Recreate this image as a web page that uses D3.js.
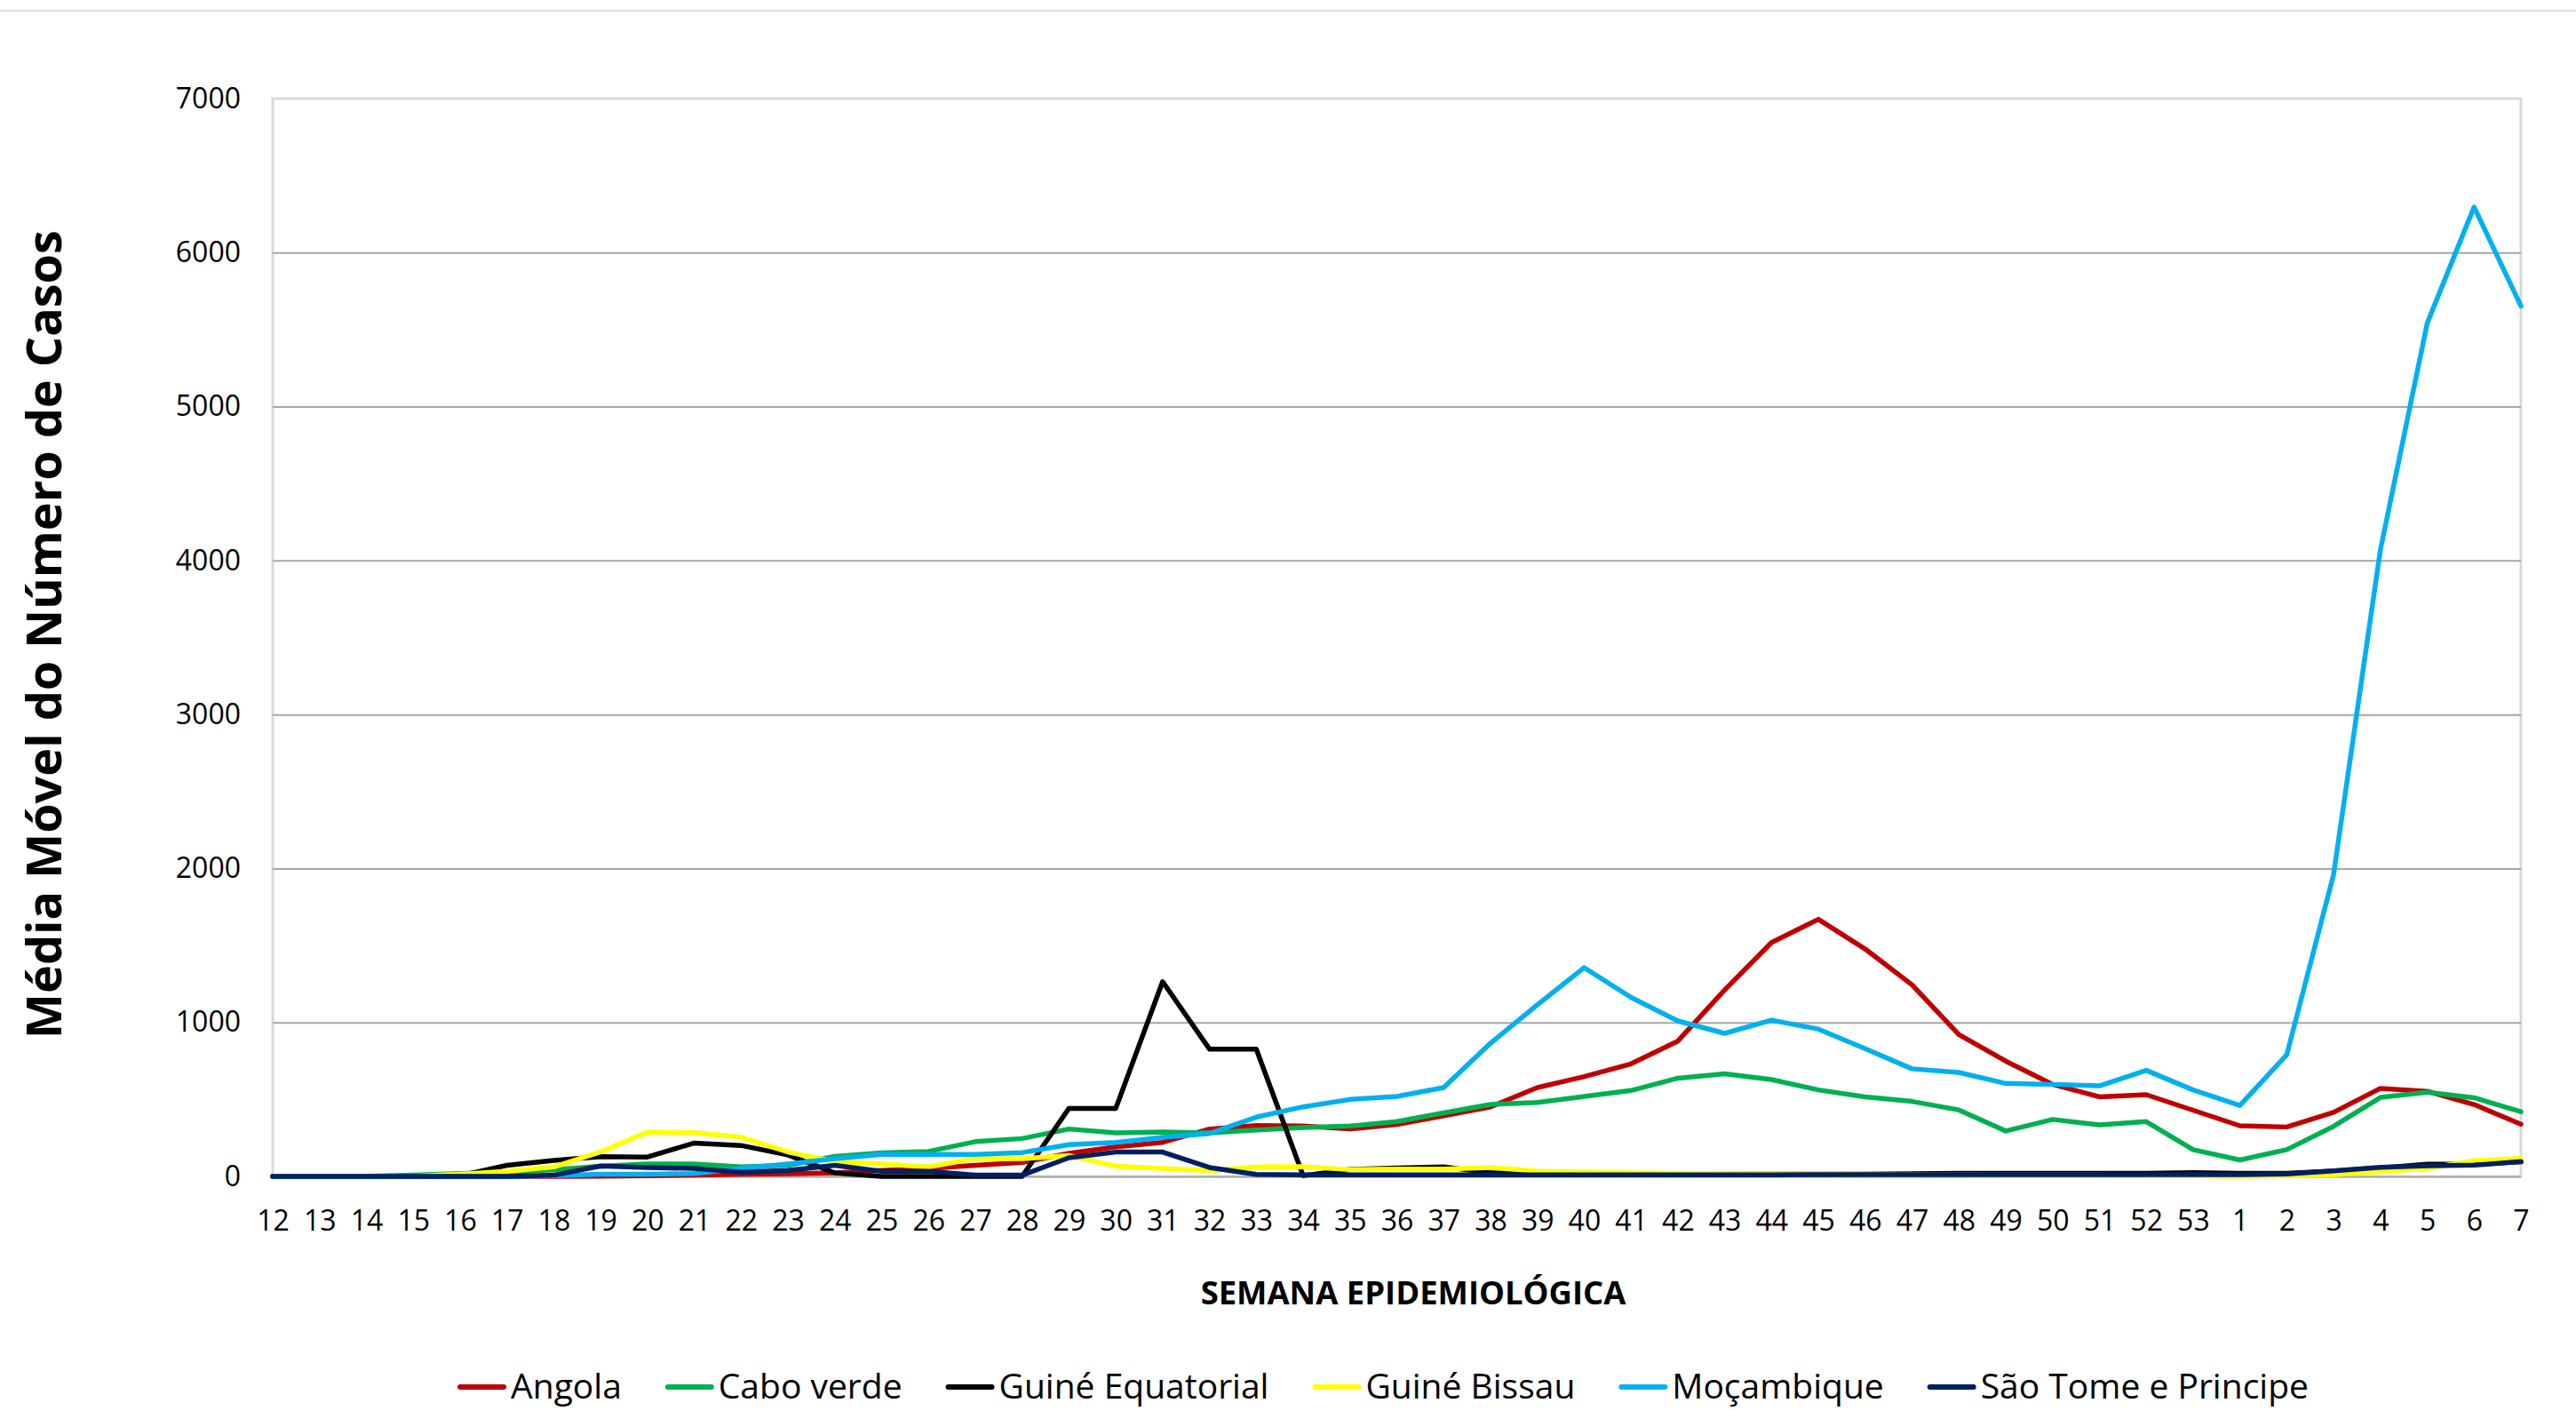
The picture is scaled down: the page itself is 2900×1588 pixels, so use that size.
<!DOCTYPE html>
<html>
<head>
<meta charset="utf-8">
<script src="https://cdn.jsdelivr.net/npm/d3@7"></script>
<style>
  html, body { margin: 0; padding: 0; background: #ffffff; }
  svg { display: block; font-family: "Open Sans", "Liberation Sans", sans-serif; }
</style>
</head>
<body>
<svg id="chart" width="2900" height="1588"></svg>
<script>
// ---------- DATA ----------
const weeks = ["12","13","14","15","16","17","18","19","20","21","22","23","24","25","26","27","28","29","30","31","32","33","34","35","36","37","38","39","40","41","42","43","44","45","46","47","48","49","50","51","52","53","1","2","3","4","5","6","7"];

const angola = [0,0,0,0,0,0,0,2,4,8,14,17,23,39,52,72,91,150,192,221,308,331,327,308,337,394,452,577,648,731,879,1211,1519,1670,1477,1244,921,749,598,517,531,430,329,321,416,572,553,467,339];
const caboVerde = [0,0,2,8,19,27,43,66,81,81,62,72,130,153,162,226,246,308,283,288,283,302,317,327,356,413,467,481,519,558,638,667,629,562,517,487,432,295,370,335,356,174,107,174,325,513,547,511,420];
const guineEquatorial = [0,0,0,0,5,72,104,128,126,217,201,139,23,0,0,0,0,442,442,1265,827,827,5,45,55,62,25,18,15,15,15,15,15,15,15,17,20,20,20,20,20,25,20,20,35,55,80,80,95];
const guineBissau = [0,0,0,0,15,33,62,159,288,284,255,159,97,81,62,116,116,135,67,52,38,62,63,44,48,48,58,35,29,23,20,18,15,15,12,12,10,8,8,8,5,5,2,5,12,32,52,103,117];
const mocambique = [0,0,0,0,0,0,5,14,14,19,52,81,116,143,143,143,155,206,221,254,279,385,452,500,519,577,865,1115,1356,1163,1010,929,1015,957,830,699,675,604,598,588,689,562,461,790,1961,4070,5542,6296,5653];
const saoTome = [0,0,0,0,0,0,8,68,58,52,27,39,72,33,33,8,8,121,158,158,58,13,10,10,10,10,10,10,10,10,10,10,10,12,12,12,12,12,12,12,12,12,12,16,36,59,69,73,97];

const seriesNames = ["Angola","Cabo verde","Guiné Equatorial","Guiné Bissau","Moçambique","São Tome e Principe"];
const seriesValues = [angola, caboVerde, guineEquatorial, guineBissau, mocambique, saoTome];
const seriesColors = ["#C00000","#00B050","#000000","#FFFF00","#00B0F0","#002060"];
const yTicks = [0,1000,2000,3000,4000,5000,6000,7000];
const yTitle = "Média Móvel do Número de Casos";
const xTitle = "SEMANA EPIDEMIOLÓGICA";

// ---------- LAYOUT ----------
const W = 2900, H = 1588;
const plot = { left: 307, right: 2838, top: 111, bottom: 1324 };

const svg = d3.select("#chart");

// top thin frame line
svg.append("line")
  .attr("x1", 0).attr("x2", W).attr("y1", 12).attr("y2", 12)
  .attr("stroke", "#dcdcdc").attr("stroke-width", 2);

const x = d3.scalePoint().domain(weeks).range([plot.left, plot.right]);
const y = d3.scaleLinear().domain([0, 7000]).range([plot.bottom, plot.top]);

// plot border (light)
svg.append("rect")
  .attr("x", plot.left).attr("y", plot.top)
  .attr("width", plot.right - plot.left).attr("height", plot.bottom - plot.top)
  .attr("fill", "none").attr("stroke", "#d9d9d9").attr("stroke-width", 3);

// gridlines
const grid = svg.append("g").attr("transform", `translate(${plot.left},0)`)
  .call(d3.axisLeft(y).tickValues(yTicks.filter(t => t < 7000)).tickSize(-(plot.right - plot.left)).tickFormat(""));
grid.select(".domain").remove();
grid.selectAll(".tick line").attr("stroke", "#a6a6a6").attr("stroke-width", 2);

// y axis labels
const yAxis = svg.append("g").attr("transform", `translate(${plot.left},0)`)
  .call(d3.axisLeft(y).tickValues(yTicks).tickSize(0).tickPadding(36).tickFormat(d3.format("d")));
yAxis.select(".domain").remove();
yAxis.selectAll("text").attr("font-size", 32).attr("fill", "#000")
  .attr("font-family", "'Open Sans', sans-serif");

// x axis labels
const xAxis = svg.append("g").attr("transform", `translate(0,${plot.bottom})`)
  .call(d3.axisBottom(x).tickSize(0).tickPadding(38));
xAxis.select(".domain").remove();
xAxis.selectAll("text").attr("font-size", 32).attr("fill", "#000")
  .attr("font-family", "'Open Sans', sans-serif");

// lines
const line = d3.line()
  .x((d, i) => x(weeks[i]))
  .y(d => y(d));

svg.append("g").selectAll("path")
  .data(seriesValues)
  .join("path")
  .attr("d", d => line(d))
  .attr("fill", "none")
  .attr("stroke", (d, i) => seriesColors[i])
  .attr("stroke-width", 5.5)
  .attr("stroke-linejoin", "round")
  .attr("stroke-linecap", "round");

// fit text helper
function fitText(sel, target) {
  const len = sel.node().getComputedTextLength();
  const fs = parseFloat(sel.attr("font-size"));
  sel.attr("font-size", fs * target / len);
}

// y title
const yt = svg.append("text")
  .attr("transform", "translate(69,714) rotate(-90)")
  .attr("text-anchor", "middle")
  .attr("font-weight", "bold")
  .attr("font-size", 50)
  .attr("fill", "#000")
  .text(yTitle);
fitText(yt, 910);

// x title
const xt = svg.append("text")
  .attr("x", 1591).attr("y", 1468)
  .attr("text-anchor", "middle")
  .attr("font-weight", "bold")
  .attr("font-size", 34)
  .attr("fill", "#000")
  .text(xTitle);
fitText(xt, 479);

// legend
const legend = svg.append("g");
const lineLen = 55, gapText = 5, gapItem = 49, legendY = 1561;
let cx = 0;
seriesNames.forEach((name, i) => {
  const g = legend.append("g").attr("transform", `translate(${cx},0)`);
  g.append("line")
    .attr("x1", 3).attr("x2", lineLen - 3)
    .attr("y1", legendY).attr("y2", legendY)
    .attr("stroke", seriesColors[i]).attr("stroke-width", 6)
    .attr("stroke-linecap", "round");
  const t = g.append("text")
    .attr("x", lineLen + gapText).attr("y", 1574)
    .attr("font-size", 39).attr("fill", "#000")
    .text(name);
  cx += lineLen + gapText + t.node().getComputedTextLength() + gapItem;
});
const totalW = cx - gapItem;
legend.attr("transform", `translate(${1557 - totalW / 2},0)`);
</script>
</body>
</html>
